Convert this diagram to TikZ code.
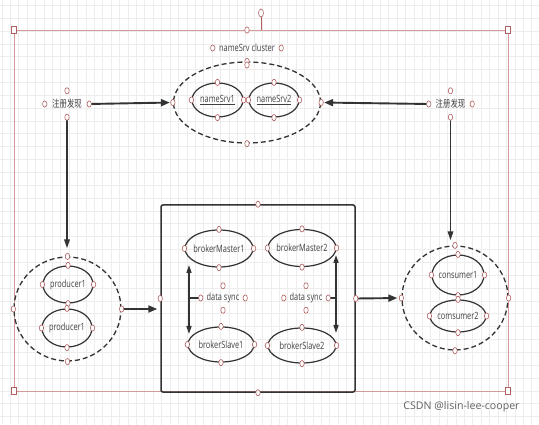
\documentclass[tikz,border=0pt]{standalone}
\usepackage{fontspec}
\setmainfont{Open Sans}[FakeStretch=0.74]
\newfontfamily\cjk{Noto Sans CJK SC}[FakeStretch=0.74]
\newfontfamily\wmfont{Open Sans}
\usetikzlibrary{shapes.geometric,arrows.meta}
\definecolor{ink}{HTML}{333333}
\definecolor{txt}{HTML}{404040}
\definecolor{sel}{HTML}{D49A9A}
\definecolor{cpc}{HTML}{B06060}
\definecolor{gridc}{HTML}{EDEDED}
\tikzset{
  ell/.style={ellipse, draw=ink, line width=1.2pt, inner sep=0pt, font=\fontsize{10}{12}\selectfont, text=txt},
  dashell/.style={ellipse, draw=ink, line width=1.3pt, dash pattern=on 5pt off 3pt, inner sep=0pt},
  lbl/.style={rectangle, inner sep=0pt, font=\fontsize{10}{12}\selectfont, text=txt},
  cp/.style={ellipse, draw=cpc, fill=white, line width=0.6pt, minimum width=4.4pt, minimum height=6.2pt, inner sep=0pt},
  hsq/.style={rectangle, draw=cpc, fill=white, line width=0.7pt, minimum width=5pt, minimum height=7pt, inner sep=0pt},
  conn/.style={draw=ink, line width=1.9pt, -{Triangle[length=9pt,width=7pt]}},
  vconn/.style={draw=ink, line width=1.7pt, -{Triangle[length=9pt,width=5.5pt]}},
  dconn/.style={draw=ink, line width=1.5pt, {Triangle[length=8pt,width=5pt]}-{Triangle[length=8pt,width=5pt]}},
  link/.style={draw=ink, line width=1.5pt},
  box/.style={rectangle, draw=ink, line width=1.5pt, rounded corners=2pt, inner sep=0pt}
}
\newcommand{\cpts}[1]{\foreach \a in {north,south,east,west}{\node[cp] at (#1.\a) {};}}
\begin{document}
\begin{tikzpicture}[x=1pt,y=-1pt]
\useasboundingbox (0,0) rectangle (539,425);
\fill[white] (0,0) rectangle (539,425);
% grid
\begin{scope}
\clip (0,0) rectangle (539,425);
\foreach \i in {0,...,64}{\draw[gridc, line width=0.6pt] ({1.8+\i*8.41},0) -- ({1.8+\i*8.41},425);}
\foreach \j in {0,...,33}{\draw[gridc, line width=0.6pt] (0,{5.3+\j*12.85}) -- (539,{5.3+\j*12.85});}
\end{scope}

% selection frame
\coordinate (sTL) at (14,30);
\coordinate (sTR) at (508,30);
\coordinate (sBR) at (508,391);
\coordinate (sBL) at (14,391);
\coordinate (sTM) at (247,30);
\coordinate (rotB) at (261,30);
\draw[sel, line width=0.8pt] (sTL) rectangle (sBR);
\node[cp, minimum width=5pt, minimum height=8pt] (rot) at (261,13) {};
\draw[cpc, line width=0.8pt] (rot.south) -- (rotB);

% nameSrv cluster
\node[lbl, minimum width=68pt, minimum height=14pt] (clt) at (247,48) {nameSrv cluster};
\node[cp] at (clt.west) {};
\node[cp] at (clt.east) {};
\node[dashell, minimum width=147pt, minimum height=81pt] (nsc) at (247,102.5) {};
\node[ell, minimum width=51pt, minimum height=34pt] (ns1) at (217.5,100) {\makebox[0pt]{\underline{nameSrv1}}};
\node[ell, minimum width=50pt, minimum height=34pt] (ns2) at (274,100) {\makebox[0pt]{\underline{nameSrv2}}};

% registration labels
\node[lbl, minimum width=44pt, minimum height=26pt] (regL) at (67,104) {\cjk 注册发现};
\node[lbl, minimum width=43pt, minimum height=26pt] (regR) at (450.5,104) {\cjk 注册发现};

% producers
\node[dashell, minimum width=107pt, minimum height=104pt] (prod) at (67.5,309) {};
\node[ell, minimum width=50pt, minimum height=37pt] (p1) at (68,284.5) {\makebox[0pt]{producer1}};
\node[ell, minimum width=50pt, minimum height=38pt] (p2) at (67,328) {\makebox[0pt]{producer1}};

% brokers
\node[box, minimum width=194pt, minimum height=187pt] (brk) at (258,298.5) {};
\node[ell, minimum width=68pt, minimum height=37pt] (bm1) at (219,248.5) {\makebox[0pt]{brokerMaster1}};
\node[ell, minimum width=68pt, minimum height=37pt] (bm2) at (302,248) {\makebox[0pt]{brokerMaster2}};
\node[ell, minimum width=66pt, minimum height=35pt] (bs1) at (221,344.5) {\makebox[0pt]{brokerSlave1}};
\node[ell, minimum width=68pt, minimum height=35pt] (bs2) at (302,345.5) {\makebox[0pt]{brokerSlave2}};
\node[lbl, minimum width=44pt, minimum height=24pt] (ds1) at (223,298) {data sync};
\node[lbl, minimum width=44pt, minimum height=24pt] (ds2) at (306,298) {data sync};

% consumers
\node[dashell, minimum width=106pt, minimum height=104pt] (cons) at (455,298) {};
\node[ell, minimum width=52pt, minimum height=40pt] (c1) at (458,275) {\makebox[0pt]{consumer1}};
\node[ell, minimum width=56pt, minimum height=32pt] (c2) at (458,316) {\makebox[0pt]{comsumer2}};

% connectors
\draw[conn, shorten >=3pt] (regL.east) -- (nsc.west);
\draw[conn, shorten >=3pt] (regR.west) -- (nsc.east);
\draw[vconn, shorten >=8pt] (regL.south) -- (regL.south |- prod.north);
\draw[vconn, shorten >=5pt] (regR.south) -- (regR.south |- cons.north);
\draw[conn, shorten >=3pt] (prod.east) -- (prod.east -| brk.west);
\draw[conn, shorten >=4pt] (brk.east) -- (cons.west);

\coordinate (a1t) at (189,265);
\coordinate (a1b) at (189,334);
\coordinate (a2t) at (336,255);
\coordinate (a2b) at (336,333);
\draw[dconn] (a1t) -- (a1b);
\draw[link] (ds1.west) -- (ds1.west -| a1t);
\draw[dconn] (a2t) -- (a2b);
\draw[link] (ds2.east) -- (ds2.east -| a2t);

% connection points
\cpts{nsc} \node[cp] at (247,65) {};
\cpts{ns1} \cpts{ns2}
\cpts{regL} \cpts{regR}
\cpts{prod} \cpts{p1} \cpts{p2}
\cpts{brk} \cpts{bm1} \cpts{bm2} \cpts{bs1} \cpts{bs2}
\cpts{ds1} \cpts{ds2}
\cpts{cons} \cpts{c1} \cpts{c2}

% selection handles
\node[hsq] at (sTL) {};
\node[hsq] at (sTR) {};
\node[hsq] at (sBR) {};
\node[hsq] at (sBL) {};
\node[cp] at (sTM) {};

% watermark
\node[font=\wmfont\fontsize{10.6}{12}\selectfont, text=black!62] (wm) at (461.5,407) {CSDN @lisin-lee-cooper};
\end{tikzpicture}
\end{document}
